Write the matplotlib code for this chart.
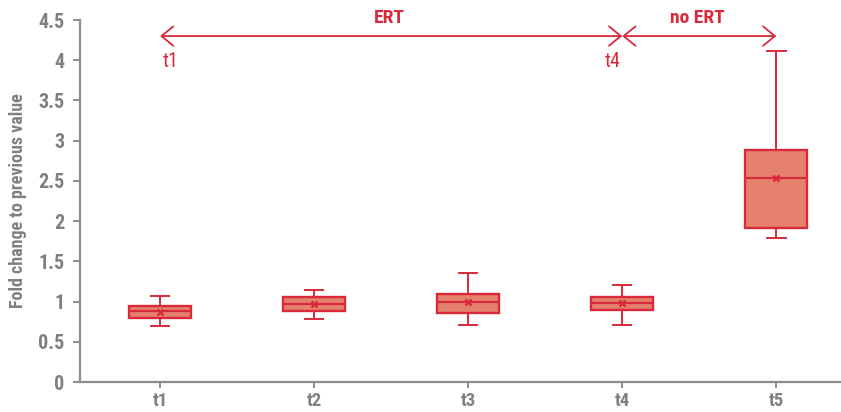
import matplotlib.pyplot as plt
from matplotlib import font_manager

# box statistics
labels = ["t1", "t2", "t3", "t4", "t5"]
whislo = [0.69, 0.78, 0.71, 0.71, 1.79]
q1 = [0.80, 0.88, 0.86, 0.90, 1.91]
med = [0.88, 0.965, 1.00, 0.98, 2.54]
mean = [0.87, 0.965, 1.00, 0.98, 2.54]
q3 = [0.95, 1.06, 1.10, 1.06, 2.88]
whishi = [1.07, 1.14, 1.35, 1.20, 4.12]

yticks = [0, 0.5, 1, 1.5, 2, 2.5, 3, 3.5, 4, 4.5]
ytick_labels = ["0", "0.5", "1", "1.5", "2", "2.5", "3", "3.5", "4", "4.5"]

RED = "#D92A3C"
FILL = "#E5806D"
GRAY = "#808080"

names = {f.name for f in font_manager.fontManager.ttflist}
fam = "DejaVu Sans"
for cand in ["Roboto Condensed", "Liberation Sans Narrow", "DejaVu Sans Condensed"]:
    if cand in names:
        fam = cand
        break
plt.rcParams["font.family"] = [fam, "DejaVu Sans"]

fig = plt.figure(figsize=(8.41, 4.12), dpi=100)
ax = fig.add_axes([80 / 841, 30 / 412, 1 - 80 / 841, 362 / 412])

stats = []
for i, lab in enumerate(labels):
    stats.append({"label": lab, "whislo": whislo[i], "q1": q1[i], "med": med[i],
                  "q3": q3[i], "whishi": whishi[i], "mean": mean[i], "fliers": []})

positions = list(range(1, len(labels) + 1))
ax.bxp(stats, positions=positions, widths=0.4, capwidths=0.12, patch_artist=True,
       showmeans=True, showfliers=False,
       boxprops=dict(facecolor=FILL, edgecolor=RED, linewidth=1.7),
       medianprops=dict(color=RED, linewidth=1.6),
       whiskerprops=dict(color=RED, linewidth=1.4),
       capprops=dict(color=RED, linewidth=1.4),
       meanprops=dict(marker="x", markeredgecolor=RED, markersize=5, markeredgewidth=1.8))

ax.set_xlim(0.48, 5.42)
ax.set_ylim(0, 4.5)
ax.set_yticks(yticks)
ax.set_yticklabels(ytick_labels)
ax.set_xticks(positions)
ax.set_xticklabels(labels)

for s in ["top", "right"]:
    ax.spines[s].set_visible(False)
for s in ["left", "bottom"]:
    ax.spines[s].set_color("#8C8C8C")
    ax.spines[s].set_linewidth(1.6)
ax.tick_params(axis="y", colors="#8C8C8C", length=5, width=1.4, labelsize=14.5,
               labelcolor=GRAY, pad=6)
ax.tick_params(axis="x", colors="#8C8C8C", length=4, width=1.4, labelsize=13.5,
               labelcolor=GRAY, pad=3)
for t in ax.get_xticklabels() + ax.get_yticklabels():
    t.set_fontweight("bold")

ax.set_ylabel("Fold change to previous value", color=GRAY, fontsize=13,
              fontweight="bold", labelpad=8)

# treatment period arrows
arrow = dict(arrowstyle="<->,head_length=0.85,head_width=0.7", color=RED, lw=1.3,
             shrinkA=0, shrinkB=0)
ax.annotate("", xy=(1, 4.3), xytext=(4, 4.3), arrowprops=arrow, annotation_clip=False)
ax.annotate("", xy=(4, 4.3), xytext=(5, 4.3), arrowprops=arrow, annotation_clip=False)
ax.text(2.49, 4.52, "ERT", color=RED, fontsize=14, fontweight="bold",
        ha="center", va="center", clip_on=False)
ax.text(4.49, 4.52, "no ERT", color=RED, fontsize=14, fontweight="bold",
        ha="center", va="center", clip_on=False)
ax.text(1.07, 3.98, "t1", color=RED, fontsize=14.5, ha="center", va="center")
ax.text(3.94, 3.98, "t4", color=RED, fontsize=14.5, ha="center", va="center")

fig.savefig("out.png", dpi=100)
